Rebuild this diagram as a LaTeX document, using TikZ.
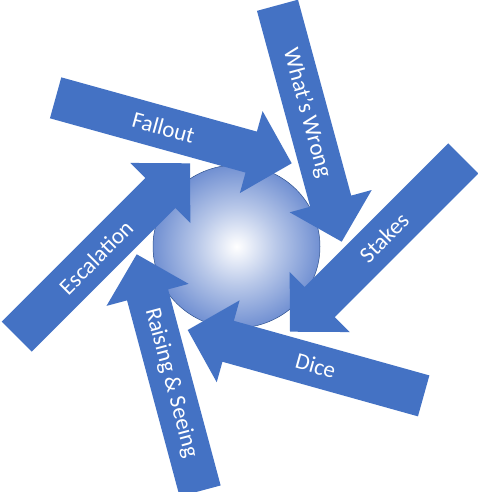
\documentclass[tikz,border=0pt]{standalone}
\usepackage{fontspec}
\setmainfont{Carlito}
\definecolor{arrblue}{HTML}{4472C4}
\definecolor{sphedge}{HTML}{7190D2}
\definecolor{sphline}{HTML}{2F528F}
\pgfdeclareradialshading{sphereshade}{\pgfpoint{0bp}{0bp}}{color(0bp)=(white); color(3bp)=(white!88!sphedge); color(12bp)=(white!50!sphedge); color(25bp)=(sphedge); color(50bp)=(sphedge)}
\tikzset{
  blockarrow/.style={fill=arrblue},
  lbl/.style={text=white, font=\fontsize{23}{27}\selectfont, inner sep=0pt},
}
\newcommand\blockarr[5]{%
  \begin{scope}[shift={#2}, rotate=-#3]
    \fill[blockarrow] (0,0) -- (-42,42.5) -- (-42,21.25) -- (-245,21.25) -- (-245,-21.25) -- (-42,-21.25) -- (-42,-42.5) -- cycle;
    \node[lbl, rotate=#4] (#1) at (-133,0) {#5};
  \end{scope}}
\begin{document}
\begin{tikzpicture}[x=1pt,y=-1pt]
  \fill[white] (0,0) rectangle (478,492);
  \useasboundingbox (0,0) rectangle (478,492);
  \path[shading=sphereshade, draw=sphline, line width=0.5pt] (236.5,246.5) ellipse [x radius=83.5, y radius=81.5];
  \blockarr{fallout}{(291.7,163.3)}{15.5}{-15.5}{Fallout}
  \blockarr{wrong}{(341.7,241.7)}{74.8}{-74.8}{What’s Wrong}
  \blockarr{stakes}{(290,331.7)}{135}{45}{Stakes}
  \blockarr{dice}{(187.7,330)}{195.6}{-15.6}{Dice}
  \blockarr{raising}{(136.7,254.3)}{255}{-75}{Raising \& Seeing}
  \blockarr{escal}{(190,163.3)}{315}{45}{Escalation}
\end{tikzpicture}
\end{document}
